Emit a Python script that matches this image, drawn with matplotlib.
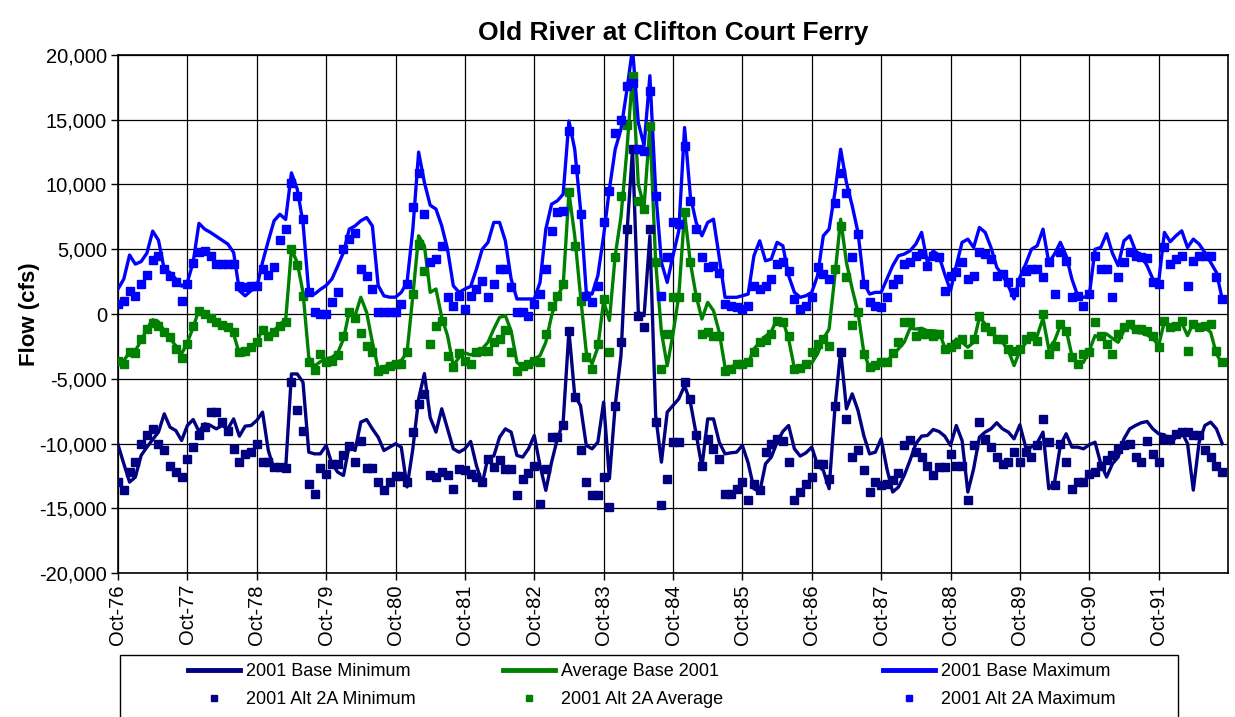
import numpy as np
import matplotlib
matplotlib.use("Agg")
import matplotlib.pyplot as plt
from matplotlib.patches import Rectangle
from matplotlib.lines import Line2D
from matplotlib.ticker import FuncFormatter

plt.rcParams['font.family'] = ['Liberation Sans', 'DejaVu Sans']

# monthly values, Oct-76 .. Sep-92 (cfs)
year_labels = ["Oct-76", "Oct-77", "Oct-78", "Oct-79", "Oct-80", "Oct-81", "Oct-82", "Oct-83",
               "Oct-84", "Oct-85", "Oct-86", "Oct-87", "Oct-88", "Oct-89", "Oct-90", "Oct-91"]

base_max = [
    1930, 2700, 4550, 3850, 4050, 4700, 6400, 5700, 3450, 3200, 2700, 2150,
    2450, 4000, 7000, 6550, 6300, 6000, 5700, 5400, 4750, 1800, 1400, 1800,
    2050, 4000, 5650, 7200, 7700, 7300, 10900, 9650, 7050, 1670, 1540, 1900,
    2200, 2700, 3700, 4750, 6550, 6800, 7200, 7450, 6800, 2200, 1400, 1300,
    1300, 1670, 2450, 6550, 12500, 10150, 8400, 8100, 6800, 5000, 2180, 1670,
    1930, 2130, 3470, 5000, 5530, 7070, 7070, 5650, 2700, 1160, 1160, 1160,
    1160, 2440, 6550, 8480, 8740, 9250, 14900, 12720, 8100, 1670, 1540, 2960,
    6040, 9640, 12720, 14260, 17220, 20500, 14780, 13000, 18400, 9500, 3980, 2440,
    4500, 6420, 14400, 9120, 7070, 6040, 7070, 7320, 4370, 1290, 1290, 1290,
    1410, 1540, 4500, 5650, 4110, 4240, 5530, 5270, 2960, 1670, 1290, 1410,
    1670, 2960, 6040, 6550, 9380, 12720, 10150, 8350, 6300, 2440, 1540, 1670,
    1670, 2700, 3730, 4500, 4630, 4880, 5400, 6300, 3980, 4880, 4500, 3080,
    1800, 3730, 5530, 5780, 5140, 6680, 6300, 5140, 3600, 3000, 2180, 1160,
    2830, 3850, 5000, 5270, 6550, 3980, 4630, 5530, 4500, 2700, 1410, 1290,
    1410, 5000, 5140, 6200, 4700, 3730, 5650, 6040, 4880, 4500, 3730, 2700,
    2440, 6300, 5580, 6040, 6420, 5140, 5780, 5400, 4750, 3980, 3210, 1160,
]

alt_max = [
    770, 980, 1800, 1360, 2300, 3000, 4200, 4500, 3450, 2900, 2450, 980,
    2350, 3900, 4800, 4900, 4450, 3850, 3850, 3850, 3850, 2150, 2050, 2200,
    2150, 3500, 3000, 3600, 5700, 6550, 10150, 9100, 7300, 1670, 130, 0,
    0, 950, 1670, 5000, 5800, 6250, 3450, 2900, 1900, 130, 130, 130,
    130, 770, 2300, 8300, 10900, 7700, 3980, 4240, 5270, 1290, 590, 1410,
    390, 1410, 1930, 2570, 1290, 2310, 3470, 3470, 2060, 130, 130, -130,
    770, 1540, 3470, 6420, 7840, 7970, 14130, 11180, 7710, 1410, 900, 2180,
    7070, 9510, 14000, 15000, 17600, 17860, 12720, 12600, 17220, 9120, 1410, 4370,
    7070, 6940, 12980, 8740, 6550, 4370, 3600, 3730, 3160, 770, 590, 510,
    390, 640, 2130, 1930, 2130, 2700, 3850, 3980, 3340, 1160, 390, 640,
    1290, 3600, 3080, 2700, 8610, 10920, 9380, 4370, 6170, 2310, 900, 640,
    510, 1290, 2310, 2700, 3850, 3980, 4450, 4630, 3730, 4500, 4370, 1800,
    2960, 3210, 3980, 2700, 2960, 4750, 4630, 4240, 2960, 3080, 2440, 1670,
    2440, 3340, 3470, 3470, 2830, 3980, 1540, 4750, 4110, 1290, 1410, 640,
    1540, 4500, 3470, 3470, 1290, 2830, 3980, 4750, 4500, 4370, 4290, 2440,
    2310, 5140, 3850, 4240, 4500, 2180, 4110, 4500, 4500, 4500, 2830, 1160,
]

base_avg = [
    -3470, -3600, -2950, -2830, -2050, -1150, -440, -600, -1300, -1900, -2450, -3080,
    -2200, -1030, 330, 80, -260, -510, -770, -1030, -1540, -3080, -3160, -2700,
    -2300, -1030, -1800, -1300, -770, -510, 5000, 3980, 1670, -3340, -4030, -3680,
    -3470, -3340, -3000, -1930, 180, -130, 1290, 130, -2180, -4190, -4110, -3850,
    -3730, -3600, -2960, 1410, 6040, 5270, 1670, 1930, -260, -1670, -3980, -3340,
    -3000, -3160, -2960, -2700, -2180, -1160, -260, -130, -1290, -3730, -4110, -3730,
    -3470, -3210, -2180, -130, 1410, 2180, 9380, 6040, 1410, -2960, -3850, -2570,
    1000, -500, 4500, 7500, 12500, 18500, 10000, 8300, 14500, 4000, -1400, -4000,
    -1540, 1410, 7800, 3980, 1410, -390, 900, 260, -1410, -4110, -4110, -3850,
    -3850, -3800, -2700, -2180, -1720, -1360, -390, -510, -1930, -4190, -4110, -3930,
    -3780, -3080, -1930, -1160, 2960, 7320, 3980, 1930, 130, -2960, -4190, -3930,
    -3780, -3600, -3210, -2700, -2180, -1100, -1160, -1100, -1290, -1290, -1360, -2570,
    -2570, -1930, -2180, -2570, -2180, -260, -770, -1410, -1800, -2180, -2830, -3980,
    -2830, -2240, -1720, -1670, -330, -2700, -2060, -900, -1200, -3210, -3850, -3730,
    -2830, -1670, -1880, -1540, -1880, -2180, -1290, -900, -1410, -1460, -1620, -1880,
    -2440, -590, -900, -1030, -690, -1670, -690, -900, -1030, -1410, -3080, -3850,
]

alt_avg = [
    -3600, -3850, -2960, -3000, -1930, -1160, -690, -900, -1360, -1800, -2700, -3420,
    -2300, -950, 260, 0, -330, -640, -850, -1030, -1410, -2960, -2830, -2570,
    -2180, -1210, -1670, -1410, -900, -590, 5000, 3780, 1410, -3730, -4290, -3080,
    -3680, -3600, -3160, -1720, 130, -330, -1460, -2440, -2960, -4370, -4240, -3980,
    -3850, -3850, -2900, 1540, 5400, 3340, -2310, -900, -510, -3210, -4110, -3000,
    -3600, -3850, -2960, -2830, -2830, -2180, -1930, -1210, -2960, -4370, -3980, -3850,
    -3600, -3730, -1540, 640, 1410, 2310, 9430, 5270, 1030, -3340, -4240, -2310,
    1160, -2960, 4370, 9120, 14570, 18380, 8740, 8100, 14520, 3980, -4240, -1540,
    1290, 1290, 7840, 3980, 1290, -1540, -1410, -1720, -1720, -4370, -4240, -3850,
    -3850, -3730, -2960, -2180, -1980, -1540, -510, -640, -1670, -4240, -4190, -3850,
    -2960, -2310, -1930, -2440, 3470, 6810, 2830, -850, 130, -3080, -4110, -3930,
    -3730, -3730, -3000, -2180, -640, -600, -1700, -1550, -1550, -1700, -1550, -2700,
    -2570, -2300, -1950, -3080, -1950, -130, -1030, -1290, -1930, -1930, -2700, -2830,
    -2700, -1930, -1670, -2060, 0, -3080, -2440, -770, -1290, -3340, -3850, -3080,
    -2960, -640, -1670, -2310, -3080, -1540, -1030, -770, -1160, -1160, -1290, -1670,
    -2570, -510, -1030, -900, -510, -2830, -770, -1030, -900, -770, -2830, -3730,
]

base_min = [
    -10090, -11560, -12980, -12590, -10920, -10280, -9690, -9120, -7710, -8740, -9000, -9770,
    -8610, -8150, -9070, -8480, -8610, -8870, -8610, -8870, -8100, -9430, -8660, -8610,
    -8220, -7580, -10540, -12000, -12080, -11950, -4630, -4630, -5270, -10670, -10800, -10800,
    -10150, -11570, -12210, -12470, -10150, -10540, -8350, -8150, -8870, -9510, -10540, -10280,
    -10020, -10280, -13360, -10410, -6550, -4600, -8000, -9120, -7320, -8870, -10410, -10670,
    -10410, -9840, -11700, -13110, -11050, -10970, -9510, -8870, -9120, -10920, -11050, -10410,
    -9380, -11700, -13620, -11440, -9640, -8350, -1290, -6300, -7070, -10150, -10410, -9900,
    -6810, -12720, -7070, -3210, 6000, 12720, 130, -130, 6040, -7840, -11440, -7580,
    -7070, -6550, -5530, -6810, -9250, -11820, -8100, -8100, -9900, -10800, -10720, -10670,
    -10150, -11500, -13490, -13750, -11570, -11050, -9900, -9070, -8610, -10410, -10970, -10720,
    -10280, -11640, -12080, -13490, -7320, -2830, -7320, -6170, -7450, -9380, -10800, -10670,
    -9640, -11950, -13750, -13360, -12460, -11300, -10020, -9430, -9380, -8920, -9070, -9430,
    -10150, -8610, -9770, -13750, -11950, -9510, -9120, -8870, -8400, -8870, -9120, -9640,
    -8560, -10280, -10280, -9950, -9120, -13490, -12980, -10150, -9250, -10280, -10280, -10410,
    -10100, -9900, -11570, -12590, -11570, -11050, -9640, -8870, -8610, -8400, -8300, -8870,
    -9250, -9320, -10020, -9510, -9120, -10000, -13600, -9900, -8610, -8350, -8870, -10020,
]

alt_min = [
    -12980, -13620, -12200, -11440, -10020, -9380, -8870, -10020, -10530, -11700, -12200, -12600,
    -11180, -10280, -9380, -8740, -7580, -7580, -8350, -9000, -10400, -11440, -10800, -10660,
    -10020, -11440, -11440, -11820, -11820, -11900, -5270, -7450, -9000, -13110, -13880, -11900,
    -12340, -11560, -11560, -10920, -10200, -11440, -9770, -11900, -11900, -13000, -13620, -12980,
    -12520, -12520, -12980, -9120, -6940, -6170, -12460, -12590, -12210, -12460, -13490, -11950,
    -12080, -12340, -12590, -12980, -11180, -11820, -11310, -11950, -12000, -14010, -12720, -12260,
    -11700, -14650, -11950, -9510, -9510, -8610, -1290, -6430, -10540, -12980, -14010, -14010,
    -12590, -14900, -7070, -2180, 6550, 12720, -130, -1030, 6550, -8350, -14780, -12720,
    -9900, -9900, -5270, -6550, -9380, -11700, -9640, -10410, -11180, -13880, -13880, -13490,
    -12980, -14390, -13110, -13620, -10670, -10020, -9640, -9770, -11440, -14390, -13750, -13110,
    -12590, -11570, -11570, -12720, -7070, -2960, -8100, -11050, -10540, -12080, -13750, -12980,
    -13240, -13110, -12850, -12260, -10150, -9700, -10670, -11050, -11700, -12460, -11820, -11820,
    -10800, -11700, -11700, -14390, -10150, -8350, -9640, -10280, -11050, -11570, -11440, -10670,
    -11440, -10670, -11050, -10150, -8100, -9900, -13240, -10020, -11440, -13490, -12980, -12980,
    -12340, -12210, -11700, -11310, -10920, -10410, -10150, -10020, -11050, -11440, -9770, -10800,
    -11440, -9640, -9640, -9250, -9120, -9120, -9380, -9380, -10540, -11050, -11700, -12210,
]

NAVY = "#000080"
GREEN = "#008000"
BLUE = "#0000FF"

fig = plt.figure(figsize=(12.35, 7.17), dpi=100)
ax = fig.add_axes([118 / 1235, 1 - 573 / 717, 1110 / 1235, 518 / 717])

months = np.arange(len(base_min))
lw = 2.4
ax.plot(months, base_min, color=NAVY, lw=lw, zorder=3)
ax.plot(months, base_avg, color=GREEN, lw=lw, zorder=3)
ax.plot(months, base_max, color=BLUE, lw=lw, zorder=3)
ms = 5.5
ax.plot(months, alt_min, ls="none", marker="s", ms=ms, color=NAVY, zorder=4)
ax.plot(months, alt_avg, ls="none", marker="s", ms=ms, color=GREEN, zorder=4)
ax.plot(months, alt_max, ls="none", marker="s", ms=ms, color=BLUE, zorder=4)

ax.set_xlim(0, 192)
ax.set_ylim(-20000, 20000)
ax.set_yticks(np.arange(-20000, 20001, 5000))
ax.yaxis.set_major_formatter(FuncFormatter(lambda v, p: f"{v:,.0f}"))
ax.set_xticks(np.arange(0, 192, 12))
ax.set_xticklabels(year_labels, rotation=90, fontsize=14.5)
ax.tick_params(axis="y", labelsize=14.5, length=5, width=1, pad=3)
ax.tick_params(axis="x", length=5, width=1, pad=3)
ax.grid(True, color="black", lw=0.9)
ax.set_axisbelow(True)
for s in ax.spines.values():
    s.set_color("black")
    s.set_linewidth(1.2)

fig.text(673 / 1235, 1 - 33 / 717, "Old River at Clifton Court Ferry",
         ha="center", va="center", fontsize=19, fontweight="bold")
fig.text(30 / 1235, 1 - 314 / 717, "Flow (cfs)", rotation=90,
         ha="center", va="center", fontsize=16, fontweight="bold")

# legend: frame plus three columns
fig.patches.append(Rectangle((120 / 1235, -0.02), 1058 / 1235, 0.02 + 62 / 717,
                             transform=fig.transFigure, fill=False,
                             edgecolor="black", lw=1))
cols = [
    (188, [("2001 Base Minimum", NAVY, True), ("2001 Alt 2A Minimum", NAVY, False)]),
    (503, [("Average Base 2001", GREEN, True), ("2001 Alt 2A Average", GREEN, False)]),
    (883, [("2001 Base Maximum", BLUE, True), ("2001 Alt 2A Maximum", BLUE, False)]),
]
for x0, entries in cols:
    handles = []
    labels = []
    for lab, col, is_line in entries:
        if is_line:
            handles.append(Line2D([], [], color=col, lw=3.5))
        else:
            handles.append(Line2D([], [], color=col, ls="none", marker="s", ms=4.5))
        labels.append(lab)
    fig.legend(handles, labels, loc="upper left", bbox_to_anchor=(x0 / 1235, 1 - 663 / 717),
               frameon=False, fontsize=13, handlelength=2.9, handletextpad=0.3,
               borderpad=0, borderaxespad=0, labelspacing=0.62, numpoints=1)

fig.savefig("out.png", dpi=100)
